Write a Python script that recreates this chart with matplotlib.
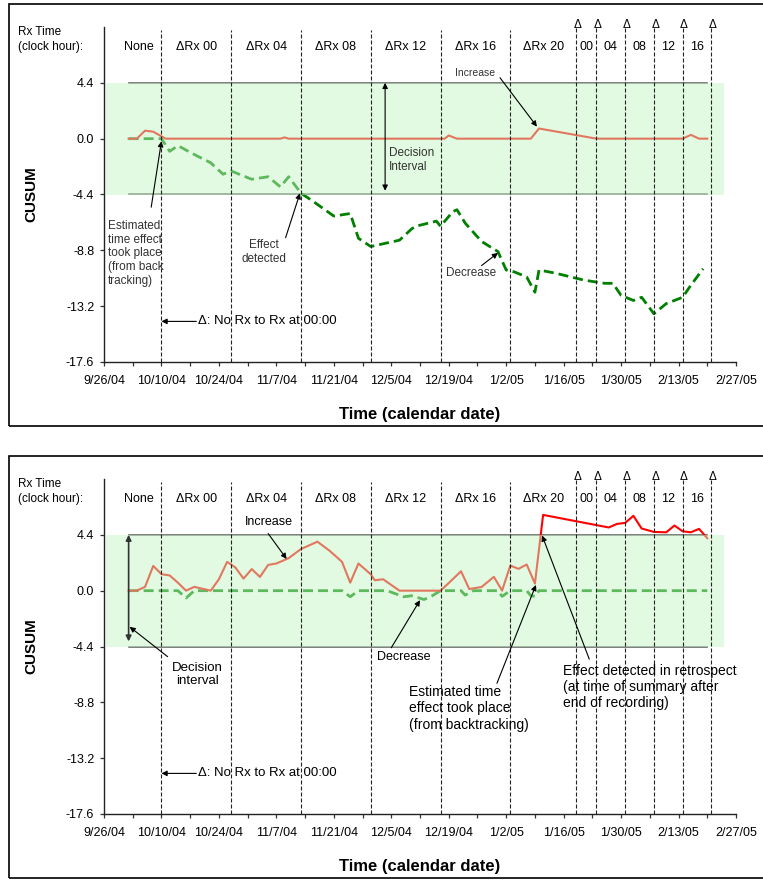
import matplotlib
matplotlib.use("Agg")
import numpy as np
import pandas as pd
import matplotlib.pyplot as plt
import matplotlib.dates as mdates
from matplotlib.patches import Rectangle
from matplotlib.ticker import FuncFormatter, FixedLocator
from matplotlib import font_manager

plt.rcParams['font.family'] = ['Liberation Sans', 'DejaVu Sans']
_names = {f.name for f in font_manager.fontManager.ttflist}
NARROW = 'Liberation Sans Narrow' if 'Liberation Sans Narrow' in _names else 'Liberation Sans'

# ---- data: upper (increase) and lower (decrease) CUSUM, two recordings ----
top_up_dates = ["2004-10-02", "2004-10-04", "2004-10-06", "2004-10-08", "2004-10-11",
                "2004-11-08", "2004-11-09", "2004-11-10", "2004-12-18", "2004-12-19",
                "2004-12-21", "2005-01-08", "2005-01-10", "2005-01-24", "2005-02-14",
                "2005-02-16", "2005-02-18", "2005-02-20"]
top_up_vals = [0.0, 0.0, 0.63, 0.55, 0.0,
               0.0, 0.1, 0.0, 0.0, 0.25,
               0.0, 0.0, 0.8, 0.0, 0.0,
               0.3, 0.0, 0.0]

top_dn_dates = ["2004-10-02", "2004-10-10", "2004-10-12", "2004-10-14", "2004-10-18",
                "2004-10-22", "2004-10-25", "2004-10-27", "2004-11-01", "2004-11-05",
                "2004-11-08", "2004-11-10", "2004-11-13", "2004-11-16", "2004-11-21",
                "2004-11-25", "2004-11-27", "2004-11-30", "2004-12-07", "2004-12-10",
                "2004-12-11", "2004-12-16", "2004-12-17", "2004-12-20", "2004-12-21",
                "2004-12-23", "2004-12-27", "2004-12-31", "2005-01-02", "2005-01-04",
                "2005-01-07", "2005-01-09", "2005-01-10", "2005-01-14", "2005-01-21",
                "2005-01-26", "2005-01-28", "2005-01-30", "2005-02-02", "2005-02-04",
                "2005-02-07", "2005-02-10", "2005-02-14", "2005-02-16", "2005-02-19"]
top_dn_vals = [0.0, 0.0, -1.0, -0.55, -1.25,
               -1.9, -2.8, -2.55, -3.2, -3.0,
               -3.8, -3.0, -4.3, -4.95, -6.1,
               -5.9, -7.85, -8.5, -8.0, -7.1,
               -6.9, -6.5, -6.9, -5.75, -5.6,
               -6.65, -8.1, -8.9, -10.35, -10.5,
               -10.9, -12.1, -10.35, -10.6, -11.15,
               -11.4, -11.4, -12.35, -12.75, -12.5,
               -13.8, -13.0, -12.5, -11.55, -10.25]

bot_up_dates = ["2004-10-02", "2004-10-04", "2004-10-06", "2004-10-08", "2004-10-10",
                "2004-10-12", "2004-10-14", "2004-10-16", "2004-10-18", "2004-10-20",
                "2004-10-22", "2004-10-24", "2004-10-26", "2004-10-28", "2004-10-30",
                "2004-11-01", "2004-11-03", "2004-11-05", "2004-11-07", "2004-11-10",
                "2004-11-13", "2004-11-17", "2004-11-20", "2004-11-23", "2004-11-25",
                "2004-11-27", "2004-11-30", "2004-12-01", "2004-12-03", "2004-12-07",
                "2004-12-17", "2004-12-19", "2004-12-22", "2004-12-24", "2004-12-27",
                "2004-12-30", "2005-01-01", "2005-01-03", "2005-01-05", "2005-01-07",
                "2005-01-09", "2005-01-11", "2005-01-27", "2005-01-29", "2005-01-31",
                "2005-02-02", "2005-02-04", "2005-02-07", "2005-02-10", "2005-02-12",
                "2005-02-14", "2005-02-16", "2005-02-18", "2005-02-20"]
bot_up_vals = [0.0, 0.0, 0.3, 1.95, 1.3,
               1.2, 0.63, 0.0, 0.3, 0.15,
               0.0, 0.9, 2.27, 1.83, 0.95,
               1.7, 1.08, 2.03, 2.14, 2.56,
               3.28, 3.86, 3.14, 2.27, 0.63,
               2.14, 1.29, 0.82, 0.9, 0.0,
               0.0, 0.6, 1.53, 0.13, 0.29,
               1.09, 0.0, 1.98, 1.72, 2.06,
               0.56, 5.97, 4.98, 5.26, 5.34,
               5.9, 4.9, 4.63, 4.6, 5.13,
               4.68, 4.6, 4.87, 4.13]

bot_dn_dates = ["2004-10-02", "2004-10-14", "2004-10-16", "2004-10-18", "2004-11-23",
                "2004-11-25", "2004-11-27", "2004-12-04", "2004-12-08", "2004-12-10",
                "2004-12-13", "2004-12-15", "2004-12-17", "2004-12-22", "2004-12-23",
                "2004-12-25", "2004-12-31", "2005-01-01", "2005-01-03", "2005-01-07",
                "2005-01-08", "2005-01-09", "2005-01-10", "2005-02-20"]
bot_dn_vals = [0.0, 0.0, -0.58, 0.0, 0.0,
               -0.48, 0.0, 0.0, -0.48, -0.4,
               -0.7, -0.4, 0.0, 0.0, -0.35,
               0.0, 0.0, -0.45, 0.0, 0.0,
               -0.4, -0.45, 0.0, 0.0]

decision_limit = 4.4
y_ticks = [-17.6, -13.2, -8.8, -4.4, 0.0, 4.4]

# treatment schedule: period boundaries and labels
period_starts = ["2004-10-10", "2004-10-27", "2004-11-13", "2004-11-30", "2004-12-17",
                 "2005-01-03", "2005-01-19", "2005-01-24", "2005-01-31", "2005-02-07",
                 "2005-02-14", "2005-02-21"]
period_labels = ["None", "ΔRx 00", "ΔRx 04", "ΔRx 08", "ΔRx 12", "ΔRx 16", "ΔRx 20",
                 "00", "04", "08", "12", "16"]
n_marked = 6   # last boundaries flagged with a delta

W, H = 763, 882
x_start, x_end = pd.Timestamp("2004-09-26"), pd.Timestamp("2005-02-27")


def d(s):
    return mdates.date2num(pd.Timestamp(s))


def date_fmt(x, pos):
    t = mdates.num2date(x)
    return f"{t.month}/{t.day}/{t:%y}"


def arrow(ax, tail, tip, style='-|>', lw=0.8, color='black'):
    ax.annotate('', xy=(d(tip[0]), tip[1]), xytext=(d(tail[0]), tail[1]),
                arrowprops=dict(arrowstyle=style, color=color, lw=lw,
                                mutation_scale=8, shrinkA=0, shrinkB=0),
                zorder=6, annotation_clip=False)


def panel(top_px, bottom_px, up_d, up_v, dn_d, dn_v):
    ax = fig.add_axes([104 / W, 1 - bottom_px / H, (736 - 104) / W,
                       (bottom_px - top_px) / H])
    up_x = mdates.date2num(pd.to_datetime(up_d))
    dn_x = mdates.date2num(pd.to_datetime(dn_d))
    ax.plot(dn_x, dn_v, color='#008000', lw=2.0, ls=(0, (3.6, 1.8)), zorder=2)
    ax.plot(up_x, up_v, color='#ff0000', lw=1.5, zorder=2.1)
    # decision interval limits over the recording span
    span = [up_x[0], up_x[-1]]
    for lim in (decision_limit, -decision_limit):
        ax.plot(span, [lim, lim], color='#6a6a6a', lw=1.2, zorder=1.9)
    # translucent band over the decision interval
    ax.add_patch(Rectangle((d("2004-09-26 12:00"), -decision_limit),
                           d("2005-02-24") - d("2004-09-26 12:00"), 2 * decision_limit,
                           facecolor='#c2f5c2', alpha=0.49, lw=0, zorder=3))

    bounds = [mdates.date2num(pd.Timestamp(s)) for s in period_starts]
    n_plain = len(bounds) - n_marked
    for i, b in enumerate(bounds):
        top = 0.991 if i < n_plain else 1.0
        ax.axvline(b, ymax=top, color='#222222', lw=0.8, ls=(0, (3.6, 1.8)), zorder=4)
    trans = ax.get_xaxis_transform()
    edges = [d(x_start) + 3] + bounds
    for lab, a, b in zip(period_labels, edges[:-1], edges[1:]):
        ax.text((a + b) / 2, 0.94, lab, transform=trans, ha='center', va='center',
                fontsize=9)
    for b in bounds[-n_marked:]:
        ax.text(b + 0.3, 1.006, "Δ", transform=trans, ha='center', va='center',
                fontsize=8.5, clip_on=False)

    ax.set_xlim(d(x_start), d(x_end))
    ax.set_ylim(-17.6, 8.8)
    ax.set_yticks(y_ticks)
    ax.set_yticklabels([f"{v:.1f}" for v in y_ticks])
    ax.xaxis.set_major_locator(FixedLocator(mdates.date2num(pd.date_range(x_start, x_end, freq='14D'))))
    ax.xaxis.set_minor_locator(FixedLocator(mdates.date2num(pd.date_range(x_start, x_end, freq='7D'))))
    ax.xaxis.set_major_formatter(FuncFormatter(date_fmt))
    ax.tick_params(axis='both', which='both', direction='out', length=3, width=0.9,
                   labelsize=9, color='#333333')
    ax.tick_params(axis='x', pad=6)
    ax.tick_params(axis='y', pad=4)
    for s in ('top', 'right'):
        ax.spines[s].set_visible(False)
    for s in ('left', 'bottom'):
        ax.spines[s].set_linewidth(1.0)
        ax.spines[s].set_color('#222222')
    ax.set_ylabel("CUSUM", fontsize=11, fontweight='bold')
    ax.yaxis.set_label_coords(-(104 - 38) / 632, 0.5)
    ax.set_xlabel("Time (calendar date)", fontsize=12, fontweight='bold')
    ax.xaxis.set_label_coords(0.5, -(407 - 362) / 335)

    # delta legend
    arrow(ax, ("2004-10-18 12:00", -14.4), ("2004-10-10", -14.4))
    ax.text(d("2004-10-19"), -14.4, "Δ: No Rx to Rx at 00:00", ha='left', va='center',
            fontsize=9.5)

    # header and frame
    fig.text(18 / W, 1 - (top_px + 5) / H, "Rx Time", fontsize=8.5, va='center')
    fig.text(18 / W, 1 - (top_px + 20) / H, "(clock hour):", fontsize=8.5, va='center')
    fig.add_artist(Rectangle((9 / W, 1 - (bottom_px + 64) / H), 1.0,
                             (bottom_px + 64 - (top_px - 23)) / H,
                             transform=fig.transFigure, fill=False, lw=1.2,
                             edgecolor='black'))
    return ax


fig = plt.figure(figsize=(W / 100, H / 100), dpi=100)
fig.patch.set_facecolor('white')

ax1 = panel(27, 362, top_up_dates, top_up_vals, top_dn_dates, top_dn_vals)
ax2 = panel(479, 814, bot_up_dates, bot_up_vals, bot_dn_dates, bot_dn_vals)

# upper panel notes
note = dict(fontsize=8.5, color='#333333', family=[NARROW, 'DejaVu Sans'], zorder=6)
ax1.text(d("2004-09-27"), -6.4, "Estimated\ntime effect\ntook place\n(from back\ntracking)",
         ha='left', va='top', linespacing=1.2, **note)
arrow(ax1, ("2004-10-07 12:00", -5.4), ("2004-10-10", -0.2))
ax1.text(d("2004-11-04"), -7.9, "Effect\ndetected", ha='center', va='top',
         linespacing=1.2, **note)
arrow(ax1, ("2004-11-09 06:00", -7.8), ("2004-11-12 18:00", -4.3))
arrow(ax1, ("2004-12-03 12:00", 4.4), ("2004-12-03 12:00", -4.1), style='<|-|>')
ax1.text(d("2004-12-04 12:00"), -1.7, "Decision\nInterval", ha='left', va='center',
         linespacing=1.2, **note)
ax1.text(d("2004-12-25 12:00"), 5.2, "Increase", ha='center', va='center',
         **dict(note, fontsize=7.5))
arrow(ax1, ("2004-12-31 12:00", 4.8), ("2005-01-09 12:00", 0.95))
ax1.text(d("2004-12-24 12:00"), -10.6, "Decrease", ha='center', va='center', **note)
arrow(ax1, ("2004-12-27", -10.0), ("2004-12-31", -9.0))

# lower panel notes
big = dict(fontsize=10, color='black', zorder=6)
ax2.text(d("2004-11-05 06:00"), 5.4, "Increase", ha='center', va='center', fontsize=9)
arrow(ax2, ("2004-11-05", 4.5), ("2004-11-09 12:00", 2.5))
arrow(ax2, ("2004-10-02", 4.4), ("2004-10-02", -4.0), style='<|-|>', lw=1.2,
      color='#333333')
ax2.text(d("2004-10-18 18:00"), -6.6, "Decision\ninterval", ha='center', va='center',
         fontsize=9.5, linespacing=1.15)
arrow(ax2, ("2004-10-11 12:00", -5.2), ("2004-10-02 06:00", -2.85))
ax2.text(d("2004-12-08"), -5.2, "Decrease", ha='center', va='center', fontsize=9)
arrow(ax2, ("2004-12-05", -4.5), ("2004-12-12", -0.75))
ax2.text(d("2004-12-09 06:00"), -7.45, "Estimated time\neffect took place\n(from backtracking)",
         ha='left', va='top', linespacing=1.2, **big)
arrow(ax2, ("2004-12-30 18:00", -7.3), ("2005-01-09 06:00", 0.45))
ax2.text(d("2005-01-15 18:00"), -5.75,
         "Effect detected in retrospect\n(at time of summary after\nend of recording)",
         ha='left', va='top', linespacing=1.2, **big)
arrow(ax2, ("2005-01-22 06:00", -5.4), ("2005-01-10 18:00", 4.35))

fig.savefig("out.png", dpi=100, facecolor='white')
